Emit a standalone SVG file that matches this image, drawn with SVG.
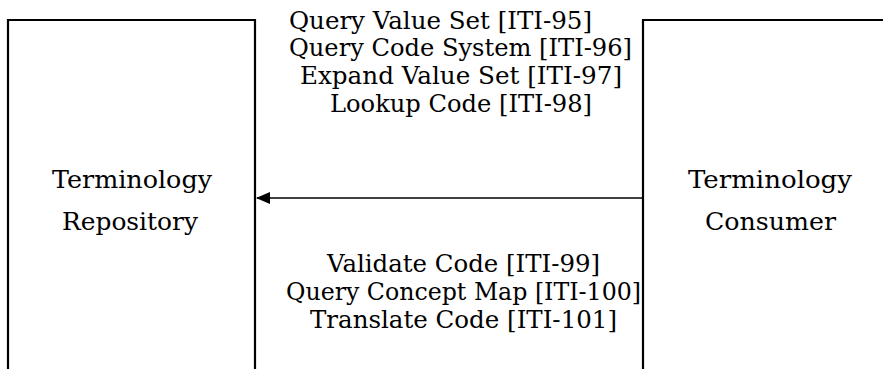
<svg xmlns="http://www.w3.org/2000/svg" width="883" height="369" viewBox="0 0 883 369">
<style>
  .box{fill:none;stroke:#000;stroke-width:2.2}
  .t{font-family:"DejaVu Serif","Liberation Serif",serif;font-size:24px;fill:#000}
  .c{stroke:#000;stroke-width:1.6;fill:none}
</style>
<defs>
  <marker id="ah" markerWidth="14" markerHeight="12" refX="13" refY="6" orient="auto" markerUnits="userSpaceOnUse">
    <path d="M0,0 L14,6 L0,12 Z" fill="#000"/>
  </marker>
</defs>
<rect width="883" height="369" fill="#fff"/>
<g id="repository">
  <path class="box" d="M8,380 V20 H255 V380"/>
  <text class="t" x="52" y="188" textLength="160" lengthAdjust="spacingAndGlyphs">Terminology</text>
  <text class="t" x="62" y="230" textLength="136" lengthAdjust="spacingAndGlyphs">Repository</text>
</g>
<g id="consumer">
  <path class="box" d="M900,20 H643 V380"/>
  <text class="t" x="688" y="188" textLength="164" lengthAdjust="spacingAndGlyphs">Terminology</text>
  <text class="t" x="705" y="230" textLength="131" lengthAdjust="spacingAndGlyphs">Consumer</text>
</g>
<g id="connectors">
  <line class="c" x1="643" y1="198" x2="257" y2="198" marker-end="url(#ah)"/>
</g>
<g id="labels">
  <text class="t" x="289" y="29" textLength="303" lengthAdjust="spacingAndGlyphs">Query Value Set [ITI-95]</text>
  <text class="t" x="289" y="56" textLength="343" lengthAdjust="spacingAndGlyphs">Query Code System [ITI-96]</text>
  <text class="t" x="300" y="84" textLength="322" lengthAdjust="spacingAndGlyphs">Expand Value Set [ITI-97]</text>
  <text class="t" x="330" y="112" textLength="262" lengthAdjust="spacingAndGlyphs">Lookup Code [ITI-98]</text>
  <text class="t" x="327" y="272" textLength="273" lengthAdjust="spacingAndGlyphs">Validate Code [ITI-99]</text>
  <text class="t" x="286" y="300" textLength="355" lengthAdjust="spacingAndGlyphs">Query Concept Map [ITI-100]</text>
  <text class="t" x="310" y="328" textLength="307" lengthAdjust="spacingAndGlyphs">Translate Code [ITI-101]</text>
</g>
</svg>
